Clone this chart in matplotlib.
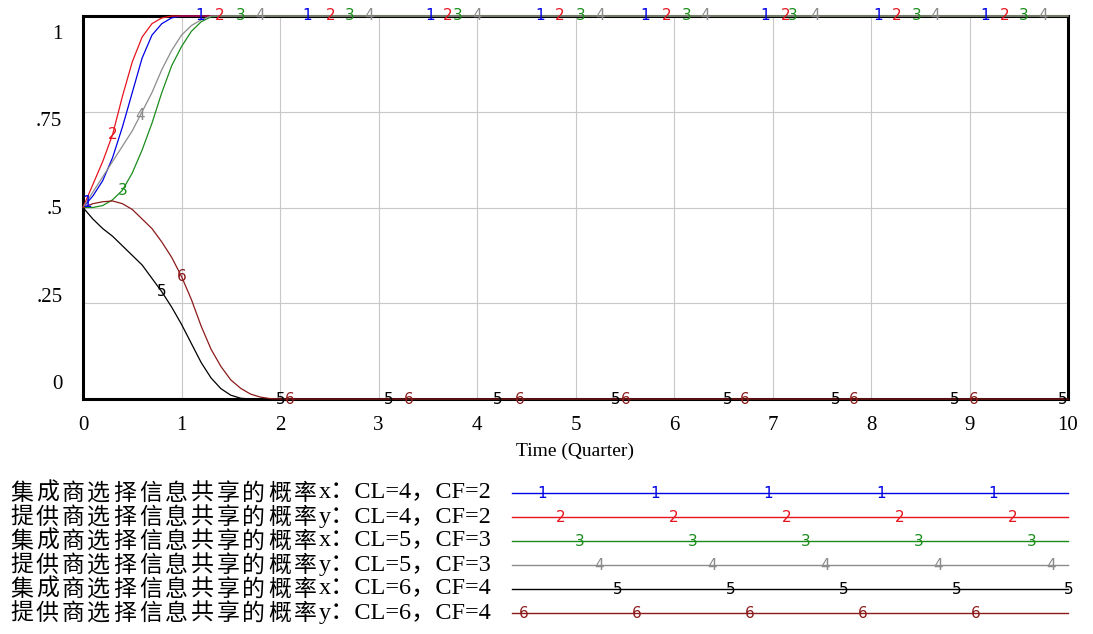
import numpy as np
import matplotlib
matplotlib.use("Agg")
import matplotlib.pyplot as plt
from matplotlib.transforms import blended_transform_factory

# time grid (quarters) and the six simulated probability series
t = [round(0.1 * i, 1) for i in range(21)] + [10.0]

x_cl4 = [0.5, 0.53, 0.57, 0.63, 0.71, 0.80, 0.89, 0.95, 0.98, 0.995, 1, 1, 1, 1, 1, 1, 1, 1, 1, 1, 1, 1]
y_cl4 = [0.5, 0.56, 0.62, 0.69, 0.79, 0.88, 0.945, 0.98, 0.995, 1, 1, 1, 1, 1, 1, 1, 1, 1, 1, 1, 1, 1]
x_cl5 = [0.5, 0.5, 0.505, 0.52, 0.545, 0.59, 0.65, 0.72, 0.80, 0.87, 0.92, 0.96, 0.985, 0.998, 1, 1, 1, 1, 1, 1, 1, 1]
y_cl5 = [0.5, 0.54, 0.58, 0.62, 0.66, 0.70, 0.75, 0.80, 0.86, 0.91, 0.95, 0.975, 0.99, 1, 1, 1, 1, 1, 1, 1, 1, 1]
x_cl6 = [0.5, 0.47, 0.445, 0.425, 0.40, 0.375, 0.35, 0.315, 0.28, 0.24, 0.195, 0.145, 0.095, 0.055, 0.027, 0.01, 0.002, 0, 0, 0, 0, 0]
y_cl6 = [0.5, 0.51, 0.515, 0.517, 0.51, 0.495, 0.47, 0.445, 0.41, 0.37, 0.32, 0.26, 0.19, 0.13, 0.085, 0.05, 0.028, 0.013, 0.005, 0.001, 0, 0]

series = [x_cl4, y_cl4, x_cl5, y_cl5, x_cl6, y_cl6]
colors = ["#0000e6", "#e6141e", "#1a8c1a", "#8c8c8c", "#000000", "#8b1a1a"]
legend_names = [
    "集成商选择信息共享的概率",
    "提供商选择信息共享的概率",
    "集成商选择信息共享的概率",
    "提供商选择信息共享的概率",
    "集成商选择信息共享的概率",
    "提供商选择信息共享的概率",
]
legend_params = [
    "x：CL=4，CF=2",
    "y：CL=4，CF=2",
    "x：CL=5，CF=3",
    "y：CL=5，CF=3",
    "x：CL=6，CF=4",
    "y：CL=6，CF=4",
]

# where the series numbers are written on the curves (time)
label_times = [
    [0.04, 1.19, 2.28, 3.52, 4.64, 5.71, 6.93, 8.07, 9.16],
    [0.30, 1.39, 2.51, 3.70, 4.84, 5.93, 7.13, 8.26, 9.36],
    [0.40, 1.60, 2.71, 3.80, 5.05, 6.13, 7.21, 8.46, 9.55],
    [0.58, 1.80, 2.90, 4.00, 5.25, 6.32, 7.43, 8.65, 9.75],
    [0.80, 2.01, 3.10, 4.21, 5.41, 6.54, 7.64, 8.85, 9.95],
    [1.00, 2.10, 3.31, 4.43, 5.51, 6.72, 7.82, 9.04],
]
# legend number positions: first offset (fraction of line), then every 0.203
legend_offsets = [0.054, 0.088, 0.122, 0.157, 0.19, 0.022]

yticks = [0, 0.25, 0.5, 0.75, 1]
ytick_labels = ["0", ".25", ".5", ".75", "1"]
xticks = list(range(11))

serif = ["Liberation Serif", "Noto Sans CJK SC"]
W, H = 1093, 634

fig = plt.figure(figsize=(W / 100, H / 100), dpi=100)
ax = fig.add_axes([83 / W, 1 - 399 / H, 985 / W, 383 / H])

for i, (vals, c) in enumerate(zip(series, colors)):
    ax.plot(t, vals, color=c, lw=0.9, zorder=3, clip_on=False)
    for lt in label_times[i]:
        ax.text(lt, np.interp(lt, t, vals), str(i + 1), color=c, fontsize=11,
                ha="center", va="center", zorder=4, clip_on=False)

ax.set_xlim(0, 10)
ax.set_ylim(0, 1)
ax.set_xticks(xticks)
ax.set_xticklabels([str(v) for v in xticks], family=serif, fontsize=15)
ax.set_yticks(yticks)
ax.set_yticklabels([])
ax.tick_params(length=0, pad=12)
ax.grid(True, color="#c8c8c8", lw=0.8)
for sp in ax.spines.values():
    sp.set_linewidth(2.2)
    sp.set_color("black")

# Vensim puts the y labels slightly squeezed toward the middle
for v, lab in zip(yticks, ytick_labels):
    ax.text(-0.021, 0.037 + 0.915 * v, lab, transform=ax.transAxes,
            ha="right", va="center", family=serif, fontsize=15)

ax.set_xlabel("Time (Quarter)", family=serif, fontsize=14, labelpad=6)

# legend block under the chart
leg = fig.add_axes([512 / W, 1 - 625 / H, 556 / W, 144 / H])
leg.set_xlim(0, 1)
leg.set_ylim(5.5, -0.5)
leg.axis("off")
trans = blended_transform_factory(fig.transFigure, leg.transData)
for i, c in enumerate(colors):
    # the original font is wide-spaced, so set the characters one by one
    for k, ch in enumerate(legend_names[i]):
        fig.text((10 + 25.8 * k) / W, i, ch, transform=trans, ha="left",
                 va="center", family=["Noto Sans CJK SC"], fontsize=16.5)
    fig.text(319 / W, i, legend_params[i], transform=trans, ha="left",
             va="center", family=serif, fontsize=17.5)
    leg.plot([0, 1], [i, i], color=c, lw=1.0, clip_on=False)
    for p in np.arange(legend_offsets[i], 1.01, 0.203):
        leg.text(p, i, str(i + 1), color=c, fontsize=11, ha="center",
                 va="center", clip_on=False)

fig.savefig("out.png", dpi=100)
